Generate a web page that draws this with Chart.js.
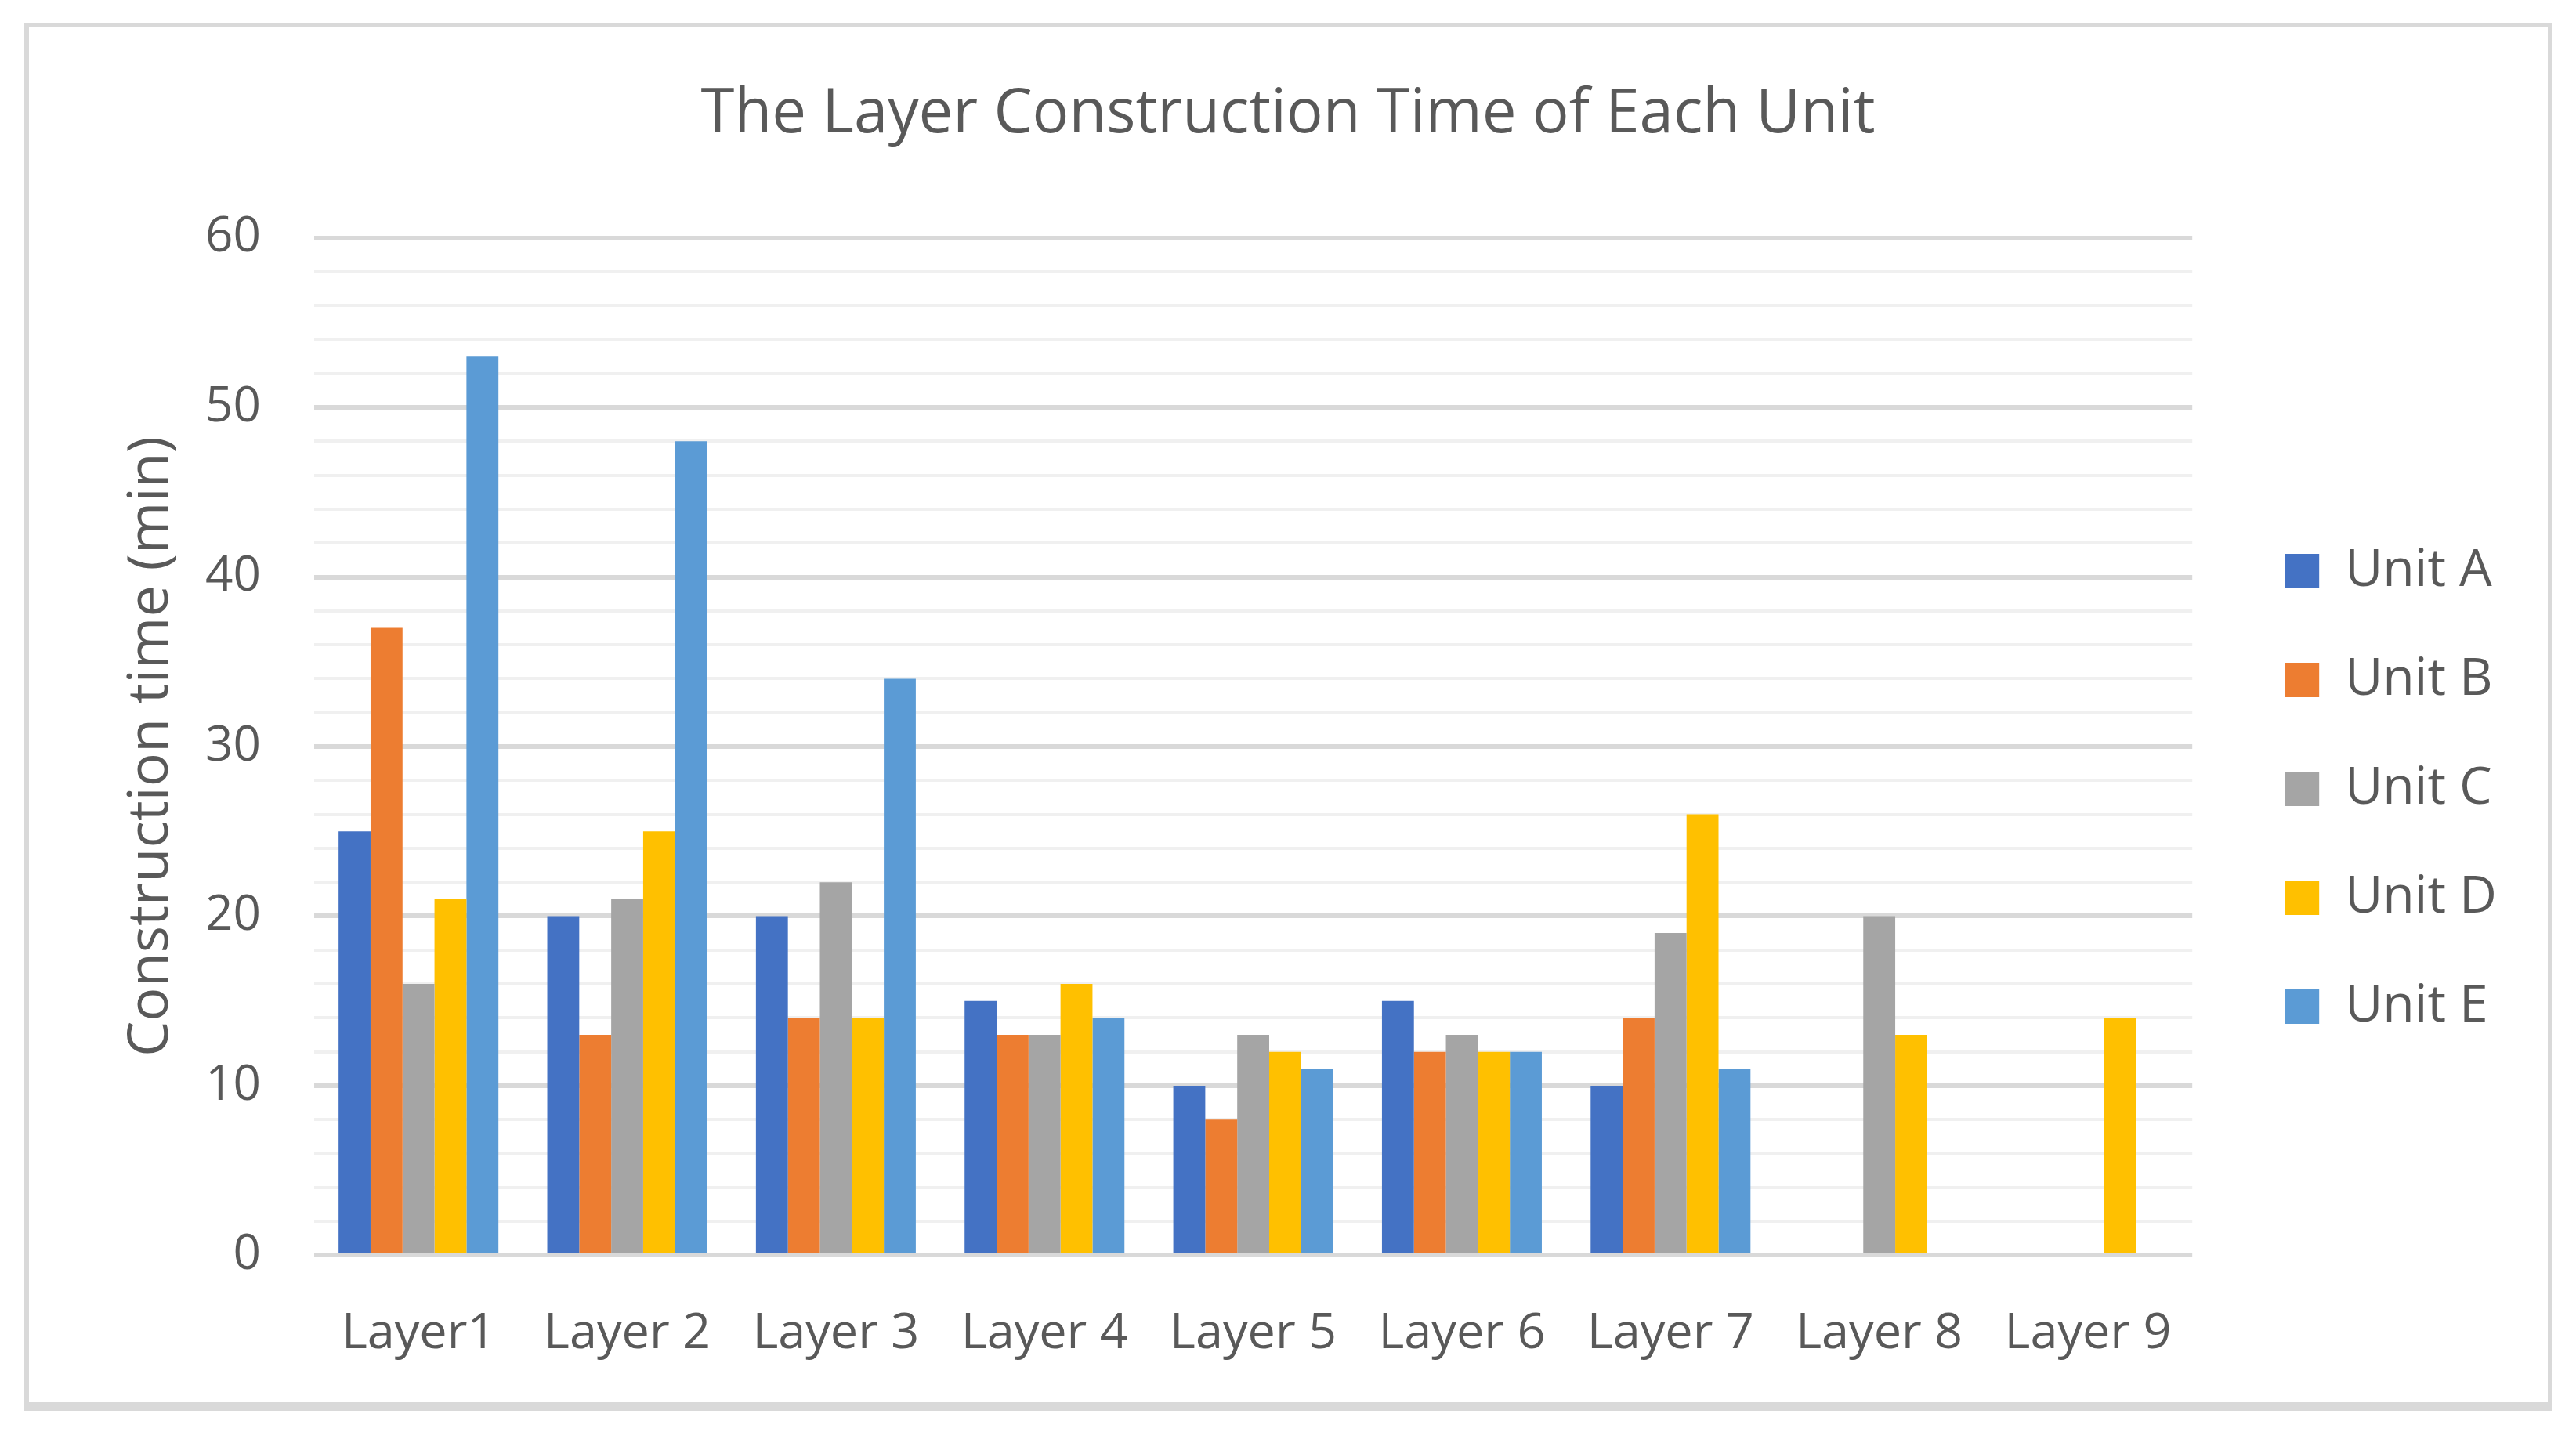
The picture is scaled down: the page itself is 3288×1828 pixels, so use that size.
<!DOCTYPE html>
<html><head><meta charset="utf-8">
<script src="https://cdn.jsdelivr.net/npm/chart.js@4.4.0/dist/chart.umd.min.js"></script>
<style>
html,body{margin:0;padding:0;background:#fff;width:3288px;height:1828px;overflow:hidden;}
#frame{position:absolute;left:30px;top:29px;width:3228px;height:1772px;box-sizing:border-box;border:6px solid #d9d9d9;border-bottom-width:11px;border-left-width:7px;}
#c{position:absolute;left:0;top:0;}
</style></head><body>
<div id="frame"></div>
<canvas id="c" width="3288" height="1828"></canvas>
<script>
const categories = ['Layer1', 'Layer 2', 'Layer 3', 'Layer 4', 'Layer 5', 'Layer 6', 'Layer 7', 'Layer 8', 'Layer 9'];
const unitA = [25, 20, 20, 15, 10, 15, 10, null, null];
const unitB = [37, 13, 14, 13, 8, 12, 14, null, null];
const unitC = [16, 21, 22, 13, 13, 13, 19, 20, null];
const unitD = [21, 25, 14, 16, 12, 12, 26, 13, 14];
const unitE = [53, 48, 34, 14, 11, 12, 11, null, null];
const seriesNames = ['Unit A', 'Unit B', 'Unit C', 'Unit D', 'Unit E'];
const seriesColors = ['#4472C4', '#ED7D31', '#A5A5A5', '#FFC000', '#5B9BD5'];
const yMin = 0, yMax = 60, yMajorStep = 10, yMinorStep = 2;
const chartTitle = 'The Layer Construction Time of Each Unit';
const yAxisTitle = 'Construction time (min)';

const FONT = "'Open Sans', 'Noto Sans', sans-serif";
const TEXT = '#595959';
const seriesValues = [unitA, unitB, unitC, unitD, unitE];

new Chart(document.getElementById('c'), {
  type: 'bar',
  data: {
    labels: categories,
    datasets: seriesNames.map((name, i) => ({
      label: name,
      data: seriesValues[i],
      backgroundColor: seriesColors[i],
      borderWidth: 0,
      categoryPercentage: 0.766,
      barPercentage: 1.0
    }))
  },
  options: {
    responsive: false,
    animation: false,
    layout: { padding: { left: 91, right: 91, top: 0, bottom: 24 } },
    plugins: {
      title: {
        display: true,
        text: chartTitle,
        color: TEXT,
        font: { family: FONT, size: 78, weight: 'normal', lineHeight: 1.2 },
        padding: { top: 100, bottom: 110 }
      },
      legend: {
        position: 'right',
        fullSize: false,
        align: 'center',
        title: { display: true, text: ' ', font: { size: 90, lineHeight: 1.2 }, padding: 0 },
        labels: {
          boxWidth: 44,
          boxHeight: 44,
          padding: 73,
          color: TEXT,
          font: { family: FONT, size: 66 }
        }
      },
      tooltip: { enabled: false }
    },
    scales: {
      x: {
        grid: { display: false, drawTicks: false },
        border: { display: false },
        ticks: { color: TEXT, font: { family: FONT, size: 63 }, padding: 63, maxRotation: 0, autoSkip: false }
      },
      y: {
        min: yMin,
        max: yMax,
        afterFit: s => { s.width = 310; },
        grid: {
          drawTicks: false,
          color: c => (c.tick && c.tick.value % yMajorStep === 0) ? '#d9d9d9' : '#f0f0f0',
          lineWidth: c => (c.tick && c.tick.value % yMajorStep === 0) ? 6 : 4
        },
        border: { display: false },
        ticks: {
          stepSize: yMinorStep,
          autoSkip: false,
          padding: 68,
          color: TEXT,
          font: { family: FONT, size: 62 },
          callback: v => (v % yMajorStep === 0) ? String(v) : ''
        },
        title: {
          display: true,
          text: yAxisTitle,
          color: TEXT,
          font: { family: FONT, size: 72, lineHeight: 1.2 },
          padding: { top: 59, bottom: 0 }
        }
      },
      gap: {
        type: 'linear',
        position: 'right',
        display: true,
        grid: { display: false, drawTicks: false },
        border: { display: false },
        ticks: { display: false },
        afterFit: s => { s.width = 45; }
      }
    }
  }
});
</script>
</body></html>
